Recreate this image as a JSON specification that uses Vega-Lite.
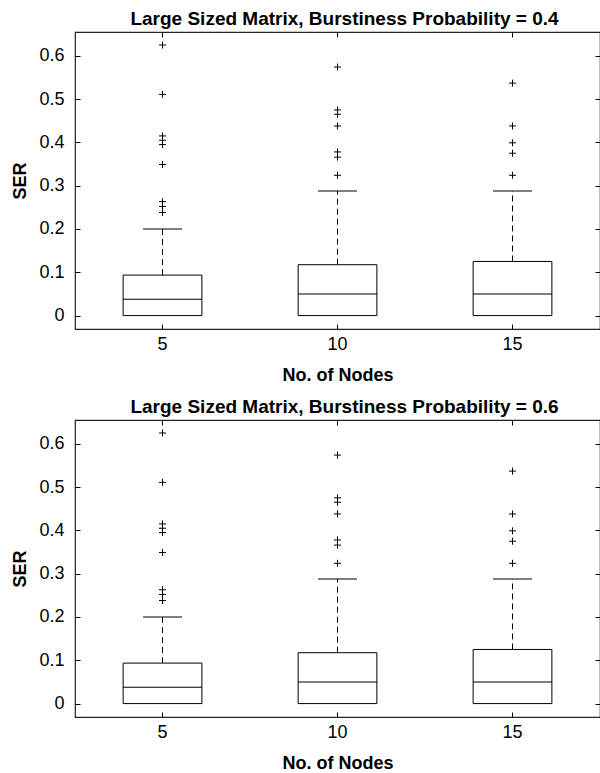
{
  "$schema": "https://vega.github.io/schema/vega-lite/v6.json",
  "background": "white",
  "padding": {"left": 11, "top": 8, "right": 1, "bottom": 0},
  "datasets": {
    "stats": [
      {"nodes": 5, "q1": 0, "median": 0.038, "q3": 0.0935, "whisk": 0.2},
      {"nodes": 10, "q1": 0, "median": 0.05, "q3": 0.1175, "whisk": 0.2875},
      {"nodes": 15, "q1": 0, "median": 0.05, "q3": 0.125, "whisk": 0.2875}
    ],
    "outliers": [
      {"nodes": 5, "ser": 0.625}, {"nodes": 5, "ser": 0.511}, {"nodes": 5, "ser": 0.415},
      {"nodes": 5, "ser": 0.405}, {"nodes": 5, "ser": 0.395}, {"nodes": 5, "ser": 0.349},
      {"nodes": 5, "ser": 0.263}, {"nodes": 5, "ser": 0.252}, {"nodes": 5, "ser": 0.238},
      {"nodes": 10, "ser": 0.574}, {"nodes": 10, "ser": 0.475}, {"nodes": 10, "ser": 0.465},
      {"nodes": 10, "ser": 0.438}, {"nodes": 10, "ser": 0.378}, {"nodes": 10, "ser": 0.366},
      {"nodes": 10, "ser": 0.324},
      {"nodes": 15, "ser": 0.537}, {"nodes": 15, "ser": 0.438}, {"nodes": 15, "ser": 0.399},
      {"nodes": 15, "ser": 0.375}, {"nodes": 15, "ser": 0.324}
    ]
  },
  "config": {
    "font": "Liberation Sans",
    "view": {"stroke": "#222", "strokeWidth": 1.2},
    "axis": {
      "grid": false, "domain": false, "tickColor": "#000", "tickSize": -5, "tickWidth": 1, "zindex": 1,
      "labelFont": "Liberation Sans", "labelFontSize": 18, "labelColor": "#000",
      "titleFont": "Liberation Sans", "titleFontSize": 18, "titleFontWeight": "bold", "titleColor": "#000"
    },
    "title": {"font": "Liberation Sans", "fontSize": 19, "fontWeight": "bold", "color": "#000", "anchor": "middle", "offset": 3, "dx": 7}
  },
  "spacing": 11,
  "vconcat": [
    {
      "title": "Large Sized Matrix, Burstiness Probability = 0.4",
      "width": 525, "height": 297,
      "resolve": {"axis": {"x": "independent", "y": "independent"}},
      "encoding": {
        "x": {"field": "nodes", "type": "ordinal", "scale": {"domain": [5, 10, 15], "paddingInner": 0, "paddingOuter": 0}}
      },
      "layer": [
        {
          "data": {"name": "stats"},
          "mark": {"type": "rule", "color": "#000", "strokeWidth": 1, "strokeDash": [6, 4]},
          "encoding": {
            "x": {"field": "nodes", "type": "ordinal", "scale": {"domain": [5, 10, 15], "paddingInner": 0, "paddingOuter": 0}, "axis": {"title": "No. of Nodes", "labelAngle": 0, "labelPadding": 11, "titlePadding": 13}},
            "y": {"field": "q3", "type": "quantitative", "scale": {"domain": [-0.031, 0.655], "nice": false, "zero": false}, "axis": {"title": "SER", "values": [0, 0.1, 0.2, 0.3, 0.4, 0.5, 0.6], "format": ".1~f", "labelPadding": 16, "titlePadding": 9}},
            "y2": {"field": "whisk"}
          }
        },
        {
          "data": {"name": "stats"},
          "mark": {"type": "bar", "fill": "#fff", "stroke": "#000", "strokeWidth": 1, "width": {"band": 0.45}},
          "encoding": {
            "x": {"field": "nodes", "type": "ordinal", "axis": null},
            "y": {"field": "q1", "type": "quantitative", "axis": null},
            "y2": {"field": "q3"}
          }
        },
        {
          "data": {"name": "stats"},
          "mark": {"type": "tick", "color": "#000", "opacity": 1, "size": 79, "thickness": 1},
          "encoding": {
            "x": {"field": "nodes", "type": "ordinal", "axis": null},
            "y": {"field": "median", "type": "quantitative", "axis": null}
          }
        },
        {
          "data": {"name": "stats"},
          "mark": {"type": "tick", "color": "#000", "opacity": 1, "size": 39, "thickness": 1},
          "encoding": {
            "x": {"field": "nodes", "type": "ordinal", "axis": null},
            "y": {"field": "whisk", "type": "quantitative", "axis": null}
          }
        },
        {
          "data": {"name": "outliers"},
          "mark": {"type": "point", "shape": "M-1,0H1M0,-1V1", "size": 49, "filled": false, "stroke": "#000", "strokeWidth": 1, "opacity": 1},
          "encoding": {
            "x": {"field": "nodes", "type": "ordinal", "axis": {"orient": "top", "labels": false, "title": null}},
            "y": {"field": "ser", "type": "quantitative", "axis": {"orient": "right", "labels": false, "title": null, "values": [0, 0.1, 0.2, 0.3, 0.4, 0.5, 0.6]}}
          }
        }
      ]
    },
    {
      "title": "Large Sized Matrix, Burstiness Probability = 0.6",
      "width": 525, "height": 297,
      "resolve": {"axis": {"x": "independent", "y": "independent"}},
      "encoding": {
        "x": {"field": "nodes", "type": "ordinal", "scale": {"domain": [5, 10, 15], "paddingInner": 0, "paddingOuter": 0}}
      },
      "layer": [
        {
          "data": {"name": "stats"},
          "mark": {"type": "rule", "color": "#000", "strokeWidth": 1, "strokeDash": [6, 4]},
          "encoding": {
            "x": {"field": "nodes", "type": "ordinal", "scale": {"domain": [5, 10, 15], "paddingInner": 0, "paddingOuter": 0}, "axis": {"title": "No. of Nodes", "labelAngle": 0, "labelPadding": 11, "titlePadding": 13}},
            "y": {"field": "q3", "type": "quantitative", "scale": {"domain": [-0.031, 0.655], "nice": false, "zero": false}, "axis": {"title": "SER", "values": [0, 0.1, 0.2, 0.3, 0.4, 0.5, 0.6], "format": ".1~f", "labelPadding": 16, "titlePadding": 9}},
            "y2": {"field": "whisk"}
          }
        },
        {
          "data": {"name": "stats"},
          "mark": {"type": "bar", "fill": "#fff", "stroke": "#000", "strokeWidth": 1, "width": {"band": 0.45}},
          "encoding": {
            "x": {"field": "nodes", "type": "ordinal", "axis": null},
            "y": {"field": "q1", "type": "quantitative", "axis": null},
            "y2": {"field": "q3"}
          }
        },
        {
          "data": {"name": "stats"},
          "mark": {"type": "tick", "color": "#000", "opacity": 1, "size": 79, "thickness": 1},
          "encoding": {
            "x": {"field": "nodes", "type": "ordinal", "axis": null},
            "y": {"field": "median", "type": "quantitative", "axis": null}
          }
        },
        {
          "data": {"name": "stats"},
          "mark": {"type": "tick", "color": "#000", "opacity": 1, "size": 39, "thickness": 1},
          "encoding": {
            "x": {"field": "nodes", "type": "ordinal", "axis": null},
            "y": {"field": "whisk", "type": "quantitative", "axis": null}
          }
        },
        {
          "data": {"name": "outliers"},
          "mark": {"type": "point", "shape": "M-1,0H1M0,-1V1", "size": 49, "filled": false, "stroke": "#000", "strokeWidth": 1, "opacity": 1},
          "encoding": {
            "x": {"field": "nodes", "type": "ordinal", "axis": {"orient": "top", "labels": false, "title": null}},
            "y": {"field": "ser", "type": "quantitative", "axis": {"orient": "right", "labels": false, "title": null, "values": [0, 0.1, 0.2, 0.3, 0.4, 0.5, 0.6]}}
          }
        }
      ]
    }
  ]
}
